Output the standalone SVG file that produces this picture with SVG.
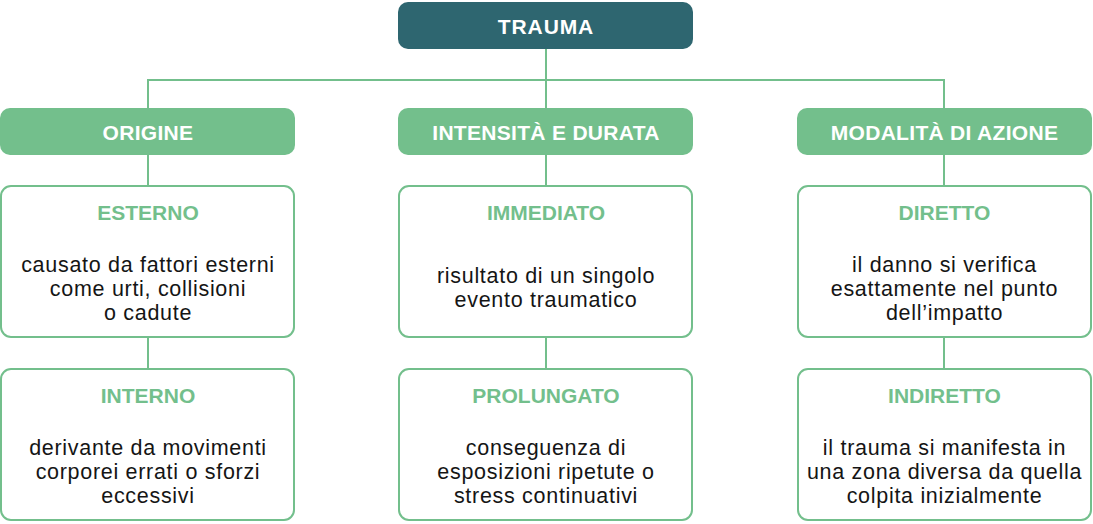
<svg xmlns="http://www.w3.org/2000/svg" width="1093" height="524" viewBox="0 0 1093 524">
<style>
.root{fill:#2E6670}
.cat{fill:#73BF8C}
.box{fill:#FFFFFF;stroke:#73BF8C;stroke-width:2}
.conn{stroke:#73BF8C;stroke-width:2;fill:none}
.h1{font-family:"Liberation Sans",Arial,sans-serif;font-weight:bold;font-size:21px;letter-spacing:0.3px;fill:#FFFFFF;text-anchor:middle}
.t{font-family:"Liberation Sans",Arial,sans-serif;font-weight:bold;font-size:21px;fill:#73BF8C;text-anchor:middle}
.b{font-family:"Liberation Sans",Arial,sans-serif;font-size:21.5px;letter-spacing:0.7px;fill:#151515;text-anchor:middle}
</style>
<rect width="1093" height="524" fill="#FFFFFF"/>
<g id="connectors">
<path class="conn" d="M546,49 V108 M148,108 V80 H944 V108 M148,155 V186 M546,155 V186 M944,155 V186 M148,337 V369 M546,337 V369 M944,337 V369"/>
</g>
<g id="trauma">
<rect class="root" x="398" y="2" width="295" height="47" rx="10"/>
<text class="h1" x="546" y="34" style="letter-spacing:0.9px">TRAUMA</text>
</g>
<g id="origine">
<rect class="cat" x="0" y="108" width="295" height="47" rx="10"/>
<text class="h1" x="148" y="139.5">ORIGINE</text>
</g>
<g id="intensita">
<rect class="cat" x="398" y="108" width="295" height="47" rx="10"/>
<text class="h1" x="546" y="139.5">INTENSITÀ E DURATA</text>
</g>
<g id="modalita">
<rect class="cat" x="797" y="108" width="295" height="47" rx="10"/>
<text class="h1" x="944.5" y="139.5">MODALITÀ DI AZIONE</text>
</g>
<g id="esterno">
<rect class="box" x="1" y="186" width="293" height="151" rx="10"/>
<text class="t" x="148" y="219.5">ESTERNO</text>
<text class="b" x="148" y="272">causato da fattori esterni</text>
<text class="b" x="148" y="296">come urti, collisioni</text>
<text class="b" x="148" y="320">o cadute</text>
</g>
<g id="interno">
<rect class="box" x="1" y="369" width="293" height="151" rx="10"/>
<text class="t" x="148" y="402.5">INTERNO</text>
<text class="b" x="148" y="455">derivante da movimenti</text>
<text class="b" x="148" y="479">corporei errati o sforzi</text>
<text class="b" x="148" y="503">eccessivi</text>
</g>
<g id="immediato">
<rect class="box" x="399" y="186" width="293" height="151" rx="10"/>
<text class="t" x="546" y="219.5">IMMEDIATO</text>
<text class="b" x="546" y="283">risultato di un singolo</text>
<text class="b" x="546" y="307">evento traumatico</text>
</g>
<g id="prolungato">
<rect class="box" x="399" y="369" width="293" height="151" rx="10"/>
<text class="t" x="546" y="402.5">PROLUNGATO</text>
<text class="b" x="546" y="455">conseguenza di</text>
<text class="b" x="546" y="479">esposizioni ripetute o</text>
<text class="b" x="546" y="503">stress continuativi</text>
</g>
<g id="diretto">
<rect class="box" x="798" y="186" width="293" height="151" rx="10"/>
<text class="t" x="944.5" y="219.5">DIRETTO</text>
<text class="b" x="944.5" y="272">il danno si verifica</text>
<text class="b" x="944.5" y="296">esattamente nel punto</text>
<text class="b" x="944.5" y="320">dell’impatto</text>
</g>
<g id="indiretto">
<rect class="box" x="798" y="369" width="293" height="151" rx="10"/>
<text class="t" x="944.5" y="402.5">INDIRETTO</text>
<text class="b" x="944.5" y="455">il trauma si manifesta in</text>
<text class="b" x="944.5" y="479">una zona diversa da quella</text>
<text class="b" x="944.5" y="503">colpita inizialmente</text>
</g>
</svg>
